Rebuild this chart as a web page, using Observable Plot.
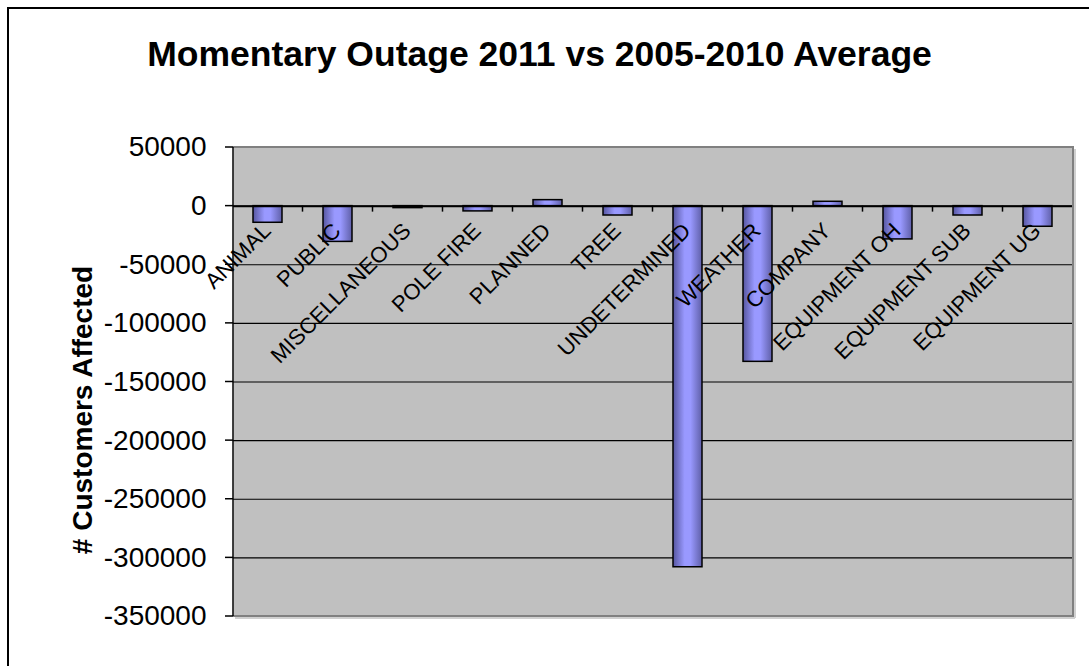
<!DOCTYPE html>
<html>
<head>
<meta charset="utf-8">
<script src="https://cdn.jsdelivr.net/npm/d3@7"></script>
<script src="https://cdn.jsdelivr.net/npm/@observablehq/plot@0.6"></script>
<style>
  html, body { margin: 0; padding: 0; background: #fff; overflow: hidden; width: 1089px; height: 666px; }
  #wrap { position: relative; width: 1089px; height: 666px; font-family: "Liberation Sans", Arial, sans-serif; }
  #border { position: absolute; left: 7px; top: 7px; width: 1200px; height: 800px; border: 2px solid #000; box-sizing: border-box; }
  #title { position: absolute; left: 0; top: 37px; width: 1079px; text-align: center; font-size: 35.5px; line-height: 1; font-weight: bold; color: #000; }
  #head { height: 100px; }
  #chart { position: relative; }
</style>
</head>
<body>
<div id="wrap">
  <div id="border"></div>
  <div id="head"></div>
  <div id="title">Momentary Outage 2011 vs 2005-2010 Average</div>
  <div id="chart"></div>
</div>
<script>
const categories = ["ANIMAL","PUBLIC","MISCELLANEOUS","POLE FIRE","PLANNED","TREE","UNDETERMINED","WEATHER","COMPANY","EQUIPMENT OH","EQUIPMENT SUB","EQUIPMENT UG"];
const values = [-14200, -30500, -1700, -4500, 5100, -8000, -308000, -132800, 3700, -28400, -8000, -17600];
const yTicks = [50000, 0, -50000, -100000, -150000, -200000, -250000, -300000, -350000];
const yLabel = "# Customers Affected";

const data = categories.map((c, i) => ({cat: c, value: values[i]}));
const innerGrid = yTicks.slice(1, -1);

// decorative axis pieces drawn from the scales
function axisPieces(index, scales, values, dim) {
  const {x, y} = scales;
  const g = d3.create("svg:g");
  const bw = x.bandwidth();
  for (let i = 1; i < categories.length; i++) {
    const bx = (x(categories[i - 1]) + bw + x(categories[i])) / 2;
    g.append("line").attr("x1", bx).attr("x2", bx).attr("y1", y(0)).attr("y2", y(0) + 6)
      .attr("stroke", "#000").attr("stroke-width", 1.5);
  }
  for (const t of yTicks) {
    g.append("line").attr("x1", dim.marginLeft - 8).attr("x2", dim.marginLeft)
      .attr("y1", y(t)).attr("y2", y(t)).attr("stroke", "#000").attr("stroke-width", 1.5);
  }
  const l = dim.marginLeft, r = dim.width - dim.marginRight, t = dim.marginTop, b = dim.height - dim.marginBottom;
  g.append("rect").attr("x", r + 1).attr("y", t + 2).attr("width", 2).attr("height", b - t).attr("fill", "#d0d0d0");
  g.append("rect").attr("x", l + 2).attr("y", b + 1).attr("width", r - l).attr("height", 2).attr("fill", "#d0d0d0");
  g.append("path").attr("d", `M${l},${t}H${r}V${b}H${l}`).attr("fill", "none").attr("stroke", "#808080").attr("stroke-width", 2);
  g.append("line").attr("x1", l).attr("x2", l).attr("y1", t).attr("y2", b).attr("stroke", "#000").attr("stroke-width", 1.5);
  return g.node();
}

const chart = Plot.plot({
  width: 1089,
  height: 566,
  marginLeft: 233,
  marginRight: 16,
  marginTop: 47,
  marginBottom: 50,
  style: {fontFamily: "'Liberation Sans', Arial, sans-serif", background: "transparent", overflow: "visible"},
  x: {domain: categories, paddingInner: 0.585, paddingOuter: 0.2925, axis: null},
  y: {domain: [-350000, 50000], axis: null},
  marks: [
    Plot.frame({fill: "#c0c0c0", stroke: null}),
    Plot.ruleY(innerGrid, {stroke: "#000", strokeWidth: 1.2}),
    Plot.barY(data, {x: "cat", y: "value", fill: "url(#barGrad)", stroke: "#000", strokeWidth: 1.5}),
    Plot.ruleY([0], {stroke: "#000", strokeWidth: 2}),
    axisPieces,
    Plot.text(yTicks, {y: d => d, frameAnchor: "left", text: d => String(d), textAnchor: "end", dx: -27, fontSize: 28, letterSpacing: "1px", fill: "#000"}),
    Plot.text(data, {x: "cat", y: () => 0, text: "cat", rotate: -45, textAnchor: "end", lineAnchor: "top", dx: -7, dy: 15, fontSize: 22, fill: "#000"}),
    Plot.text([yLabel], {frameAnchor: "left", text: d => d, rotate: -90, textAnchor: "middle", dx: -150, dy: 28, fontSize: 28, fontWeight: "bold", fill: "#000"})
  ]
});

const svg = d3.select(chart);
const grad = svg.insert("defs", ":first-child").append("linearGradient")
  .attr("id", "barGrad").attr("x1", "0").attr("x2", "1").attr("y1", "0").attr("y2", "0");
grad.append("stop").attr("offset", "0").attr("stop-color", "#5656a0");
grad.append("stop").attr("offset", "0.4").attr("stop-color", "#9999ff");
grad.append("stop").attr("offset", "0.6").attr("stop-color", "#9999ff");
grad.append("stop").attr("offset", "1").attr("stop-color", "#5f5fa8");

document.getElementById("chart").appendChild(chart);
</script>
</body>
</html>
